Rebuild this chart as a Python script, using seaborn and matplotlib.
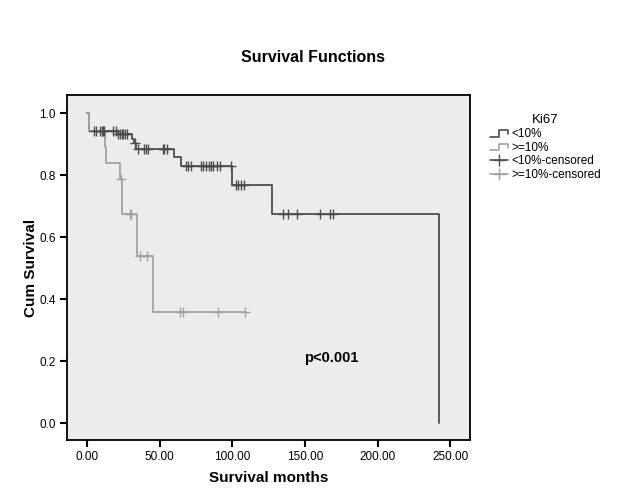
import numpy as np
import pandas as pd
import seaborn as sns
import matplotlib.pyplot as plt
from matplotlib.lines import Line2D
from matplotlib.legend_handler import HandlerBase

# >>>>> 1. Data
low_times = [0, 1.3, 20.9, 30.8, 32.4, 33.7, 60.1, 64.5, 99.6, 127.4, 242.4]
low_surv = [1.0, 0.943, 0.932, 0.918, 0.903, 0.886, 0.858, 0.830, 0.769, 0.675, 0.0]
low_censored = [4.8, 6.2, 9.0, 10.1, 11.2, 11.9, 18.1, 19.7, 21.5, 22.7, 23.9, 25.0,
                26.2, 27.3, 32.9, 35.1, 39.3, 40.6, 42.0, 52.1, 53.3, 54.9, 68.0,
                69.8, 71.4, 78.5, 80.1, 82.0, 83.8, 85.4, 87.0, 89.3, 91.6, 99.4,
                102.4, 104.2, 105.8, 108.1, 135.2, 138.7, 144.4, 160.5, 167.4, 169.6]

high_times = [0, 1.3, 12.4, 13.3, 22.9, 24.3, 34.4, 45.2, 108.8]
high_surv = [1.0, 0.943, 0.892, 0.841, 0.788, 0.675, 0.541, 0.360, 0.360]
high_censored = [23.3, 29.3, 30.1, 36.5, 41.1, 64.0, 66.3, 90.4, 108.8]

group_labels = ['<10%', '>=10%']
x_ticks = [0, 50, 100, 150, 200, 250]
y_ticks = [0.0, 0.2, 0.4, 0.6, 0.8, 1.0]
# <<<<< 1. Data

DARK = '#4d4d4d'
LIGHT = '#a3a3a3'


def step_lookup(times, surv, t):
    i = np.searchsorted(times, t, side='right') - 1
    return surv[i]


curves = pd.concat([
    pd.DataFrame({'time': low_times, 'surv': low_surv, 'group': group_labels[0]}),
    pd.DataFrame({'time': high_times, 'surv': high_surv, 'group': group_labels[1]}),
])
marks = pd.concat([
    pd.DataFrame({'time': low_censored,
                  'surv': [step_lookup(low_times, low_surv, t) for t in low_censored],
                  'group': group_labels[0]}),
    pd.DataFrame({'time': high_censored,
                  'surv': [step_lookup(high_times, high_surv, t) for t in high_censored],
                  'group': group_labels[1]}),
])
palette = {group_labels[0]: DARK, group_labels[1]: LIGHT}

sns.set_theme(style='ticks', rc={'axes.facecolor': '#ececec',
                                 'axes.edgecolor': 'black',
                                 'axes.linewidth': 1.3,
                                 'text.color': 'black',
                                 'axes.labelcolor': 'black',
                                 'xtick.color': 'black',
                                 'ytick.color': 'black'})
plt.rcParams['font.family'] = ['Liberation Sans', 'DejaVu Sans']

fig = plt.figure(figsize=(6.29, 5.04), dpi=100)
ax = fig.add_axes([0.106, 0.127, 0.642, 0.684])

sns.lineplot(data=curves, x='time', y='surv', hue='group', palette=palette,
             estimator=None, sort=False, drawstyle='steps-post', linewidth=1.3,
             legend=False, ax=ax)
for g in group_labels:
    sub = marks[marks['group'] == g]
    ax.plot(sub['time'], sub['surv'], linestyle='none', marker='+',
            markersize=7, markeredgewidth=1.0, color=palette[g])

ax.set_xlim(-14, 264)
ax.set_ylim(-0.054, 1.058)
ax.set_xticks(x_ticks)
ax.set_xticklabels(['{:.2f}'.format(v) for v in x_ticks], fontsize=8.5)
ax.set_yticks(y_ticks)
ax.set_yticklabels(['{:.1f}'.format(v) for v in y_ticks], fontsize=8.5)
ax.tick_params(direction='out', length=5, width=1.5, color='black', pad=3)
ax.set_xlabel('Survival months', fontsize=11, fontweight='bold', labelpad=6)
ax.set_ylabel('Cum Survival', fontsize=11, fontweight='bold', labelpad=1)
for s in ax.spines.values():
    s.set_visible(True)

fig.text(0.498, 0.885, 'Survival Functions', ha='center', va='center',
         fontsize=11.5, fontweight='bold')
ax.text(168, 0.21, 'p<0.001', ha='center', va='center', fontsize=10.5,
        fontweight='bold')


# >>>>> 2. Legend with step shaped handles
class StepHandler(HandlerBase):
    def create_artists(self, legend, orig_handle, xdescent, ydescent,
                       width, height, fontsize, trans):
        x0, x1 = -xdescent, -xdescent + width
        y0, y1 = -ydescent + 0.1 * height, -ydescent + 0.8 * height
        xm = x0 + 0.5 * width
        line = Line2D([x0, xm, xm, x1, x1], [y0, y0, y1, y1, y0 + 0.3 * height],
                      color=orig_handle.get_color(), linewidth=1.2,
                      transform=trans)
        return [line]


h_low = Line2D([], [], color=DARK)
h_high = Line2D([], [], color=LIGHT)
c_low = Line2D([], [], color=DARK, marker='+', markersize=9, linewidth=1.2)
c_high = Line2D([], [], color=LIGHT, marker='+', markersize=9, linewidth=1.2)
leg = fig.legend([h_low, h_high, c_low, c_high],
                 ['<10%', '>=10%', '<10%-censored', '>=10%-censored'],
                 handler_map={h_low: StepHandler(), h_high: StepHandler()},
                 loc='upper left', bbox_to_anchor=(0.772, 0.783), frameon=False,
                 title='Ki67', fontsize=8.5, title_fontsize=9.5,
                 handlelength=1.5, handletextpad=0.25, labelspacing=0.15,
                 handleheight=0.9, borderaxespad=0)
# <<<<< 2. Legend

fig.savefig('out.png', dpi=100)
